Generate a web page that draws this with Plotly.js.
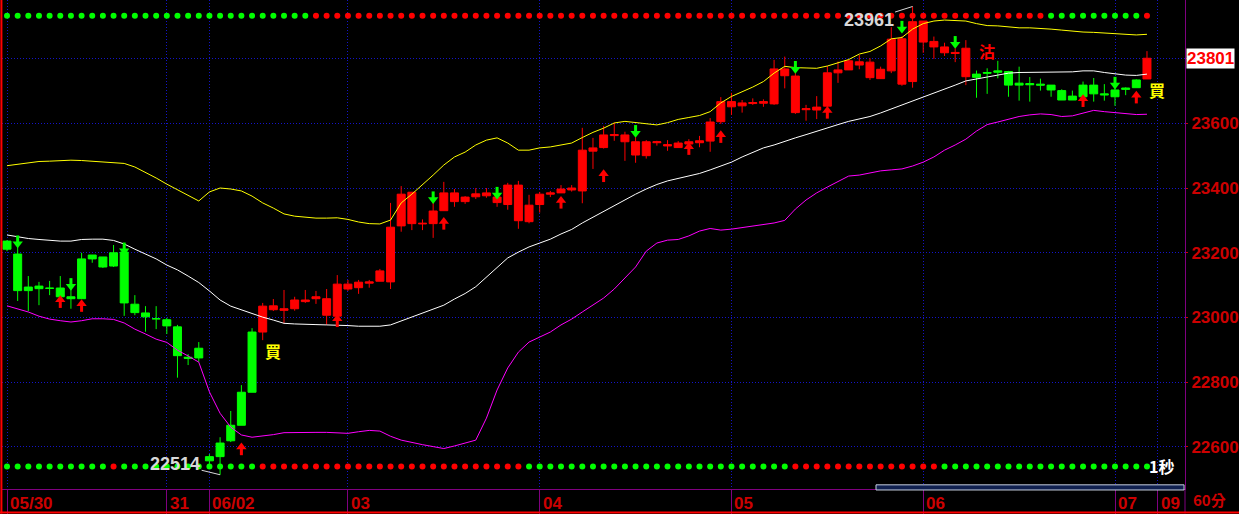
<!DOCTYPE html>
<html><head><meta charset="utf-8">
<script src="https://cdn.plot.ly/plotly-3.0.1.min.js"></script>
<style>html,body{margin:0;padding:0;background:#000;}#chart{width:1239px;height:514px;}</style>
</head><body><div id="chart"></div>
<script>
// ---- data (60-minute bars) ----
const open = [
23236,23196,23094,23097,23091,23091,23064,23058,23193,23187,
23200,23202,23041,23014,22996,22993,22971,22877,22875,22570,
22612,22619,22667,22769,22955,23024,23022,23027,23049,23058,
23007,23004,23088,23092,23106,23112,23110,23283,23290,23289,
23290,23330,23358,23358,23373,23376,23355,23349,23409,23296,
23349,23381,23385,23394,23391,23514,23525,23562,23543,23502,
23500,23540,23530,23525,23536,23540,23545,23605,23651,23654,
23661,23662,23660,23747,23746,23642,23641,23653,23756,23765,
23780,23789,23738,23762,23861,23729,23916,23853,23836,23819,
23832,23752,23757,23762,23760,23724,23723,23721,23718,23701,
23684,23718,23718,23691,23703,23709,23710,23737];
const close = [
23211,23083,23083,23089,23090,23064,23058,23181,23181,23156,
23159,23045,23015,23002,22996,22974,22882,22874,22905,22557,
22570,22667,22769,22955,23035,23036,23027,23054,23054,23064,
23058,23103,23103,23109,23110,23144,23279,23381,23387,23291,
23329,23385,23385,23372,23382,23385,23372,23409,23299,23347,
23381,23385,23397,23400,23517,23524,23564,23565,23564,23543,
23543,23543,23534,23539,23543,23546,23604,23667,23667,23663,
23664,23667,23768,23768,23633,23645,23650,23756,23765,23793,
23790,23741,23767,23860,23721,23914,23851,23836,23818,23816,
23744,23742,23755,23758,23718,23718,23719,23718,23703,23672,
23672,23682,23691,23688,23682,23705,23734,23801];
const high = [
23239,23225,23128,23110,23113,23128,23110,23200,23193,23187,
23224,23224,23069,23035,23035,22999,22977,22887,22924,22578,
22630,22711,22791,22967,23045,23057,23085,23064,23085,23082,
23088,23131,23116,23116,23116,23150,23354,23406,23388,23303,
23366,23419,23397,23375,23400,23400,23385,23416,23422,23379,
23388,23391,23409,23409,23586,23555,23592,23602,23574,23557,
23548,23546,23548,23545,23551,23561,23616,23681,23694,23672,
23677,23674,23796,23806,23760,23657,23684,23777,23791,23797,
23811,23801,23775,23897,23869,23961,23916,23868,23849,23832,
23857,23763,23770,23793,23762,23775,23743,23738,23718,23705,
23701,23729,23740,23721,23709,23711,23736,23823];
const low = [
23205,23051,23020,23038,23069,23048,23027,23057,23169,23153,
23156,23005,23007,22956,22964,22949,22814,22853,22863,22539,
22514,22615,22667,22769,22930,23020,22982,23021,23045,23042,
22977,22977,23082,23073,23092,23112,23088,23265,23270,23270,
23246,23330,23342,23351,23366,23370,23342,23333,23274,23291,
23324,23372,23385,23389,23353,23459,23522,23546,23484,23478,
23491,23531,23515,23525,23533,23526,23512,23598,23626,23633,
23657,23651,23657,23708,23629,23608,23613,23650,23725,23765,
23767,23734,23738,23755,23716,23710,23818,23799,23808,23789,
23718,23679,23691,23739,23682,23670,23667,23701,23682,23672,
23672,23682,23667,23670,23654,23687,23710,23737];
// candle colour signal: g = green, r = red
const candleColor = 'gggggggggggggggggggggggg' + 'r'.repeat(67) + 'gggggggggggggggg' + 'r';
// Bollinger bands
const upperBand = [
23469,23474,23479,23482,23483,23485,23486,23485,23483,23482,
23480,23476,23465,23449,23431,23412,23394,23378,23360,23388,
23400,23397,23391,23375,23354,23338,23320,23313,23310,23307,
23307,23308,23303,23295,23290,23289,23301,23354,23381,23409,
23440,23471,23496,23511,23533,23548,23555,23539,23517,23517,
23524,23527,23533,23539,23556,23572,23585,23601,23606,23602,
23599,23595,23602,23612,23618,23624,23636,23663,23683,23697,
23712,23729,23755,23776,23772,23771,23770,23777,23786,23797,
23814,23822,23839,23861,23865,23891,23908,23916,23919,23918,
23916,23908,23902,23901,23898,23895,23895,23894,23891,23888,
23884,23882,23881,23879,23878,23874,23873,23875];
const midBand = [
23255,23249,23244,23241,23238,23236,23236,23241,23242,23242,
23238,23227,23211,23196,23181,23162,23147,23128,23108,23082,
23054,23035,23023,23012,23001,22992,22982,22980,22980,22978,
22977,22977,22975,22973,22973,22973,22977,22989,23001,23014,
23026,23038,23057,23074,23095,23125,23156,23184,23202,23218,
23230,23242,23258,23272,23292,23310,23327,23347,23364,23381,
23397,23411,23422,23429,23437,23445,23456,23468,23480,23496,
23511,23524,23533,23545,23555,23565,23576,23587,23596,23606,
23613,23621,23632,23644,23657,23669,23681,23692,23706,23718,
23731,23738,23743,23749,23755,23757,23757,23757,23757,23757,
23759,23762,23762,23757,23752,23749,23748,23752];
const lowerBand = [
23036,23026,23017,23004,22995,22990,22986,22990,22996,22996,
22994,22983,22964,22949,22933,22923,22899,22881,22862,22770,
22704,22661,22637,22630,22633,22638,22644,22645,22645,22645,
22645,22644,22642,22647,22651,22649,22633,22621,22613,22607,
22601,22595,22603,22612,22621,22689,22776,22844,22893,22924,
22940,22955,22977,22995,23017,23038,23060,23088,23122,23156,
23205,23230,23239,23241,23252,23267,23275,23270,23273,23278,
23283,23287,23292,23300,23335,23363,23385,23403,23419,23437,
23440,23446,23453,23456,23459,23468,23480,23496,23517,23533,
23551,23576,23596,23604,23613,23621,23626,23629,23627,23621,
23623,23632,23640,23636,23633,23629,23627,23628];
// signal dot rows
const topSignal = 'g'.repeat(29) + 'r'.repeat(69) + 'g'.repeat(9) + 'r';
const bottomSignal = 'g'.repeat(10) + 'r' + 'g'.repeat(13) + 'r'.repeat(25) + 'g'.repeat(25) + 'r'.repeat(14) + 'g'.repeat(20);
// arrow markers
const upArrowIdx = [5,7,22,31,41,52,56,64,67,77,101,106];
const upArrowPrice = [23048,23036,22593,22989,23290,23355,23437,23521,23558,23633,23669,23680];
const downArrowIdx = [1,6,11,40,46,59,74,84,89,104];
const downArrowPrice = [23235,23103,23213,23371,23385,23576,23774,23898,23851,23725];
// axis ticks
const dayTickIdx = [0,15,19,32,50,68,86,104,108];
const dayTickText = ['05/30','31','06/02','03','04','05','06','07','09'];
const priceTicks = [22600,22800,23000,23200,23400,23600,23800];
const priceTickText = ['22600','22800','23000','23200','23400','23600',''];
const buyLabels = [{i:24, p:22896, t:'買'}, {i:107, p:23703, t:'買'}];
const sellLabels = [{i:91, p:23822, t:'沽'}];

// ---- styles ----
const RED = '#ff0000', GREEN = '#00ff00', AXRED = '#cc0000', PURPLE = '#800080', GRID = '#1414c8';
const yRange = [22470, 23981];
const plotH = 489;
const ppp = (yRange[1] - yRange[0]) / plotH;
const idx = open.map((_, i) => i);

function candleTrace(code, col) {
  const x=[],o=[],h=[],l=[],c=[];
  idx.forEach(i => { if (candleColor[i] === code) { x.push(i); o.push(open[i]); h.push(high[i]); l.push(low[i]); c.push(close[i]); } });
  const st = {line:{color:col, width:1}, fillcolor:col};
  return {type:'candlestick', x, open:o, high:h, low:l, close:c, increasing:st, decreasing:st,
          whiskerwidth:0, hoverinfo:'skip', showlegend:false};
}
const lineTrace = (y, col) => ({type:'scatter', mode:'lines', x:idx, y, line:{color:col, width:1}, hoverinfo:'skip'});
const dotTrace = (sig, yv) => ({type:'scatter', mode:'markers', x:idx, y:idx.map(()=>yv), yaxis:'y2',
  marker:{size:6, color:sig.split('').map(s => s==='g'?GREEN:RED)}, hoverinfo:'skip', cliponaxis:false});

const traces = [
  lineTrace(upperBand, '#ffff00'),
  lineTrace(midBand, '#ffffff'),
  lineTrace(lowerBand, '#ff00ff'),
  candleTrace('g', GREEN),
  candleTrace('r', RED),
  dotTrace(topSignal, 0.968),
  dotTrace(bottomSignal, 0.046),
  {type:'scatter', mode:'markers', x:upArrowIdx, y:upArrowPrice.map(p=>p+2.2*ppp), marker:{symbol:'triangle-up', size:9, color:RED}, hoverinfo:'skip'},
  {type:'scatter', mode:'markers', x:upArrowIdx, y:upArrowPrice.map(p=>p-2.5*ppp), marker:{symbol:'line-ns', size:5, line:{color:RED, width:3}}, hoverinfo:'skip'},
  {type:'scatter', mode:'markers', x:downArrowIdx, y:downArrowPrice.map(p=>p-2.2*ppp), marker:{symbol:'triangle-down', size:9, color:GREEN}, hoverinfo:'skip'},
  {type:'scatter', mode:'markers', x:downArrowIdx, y:downArrowPrice.map(p=>p+2.5*ppp), marker:{symbol:'line-ns', size:5, line:{color:GREEN, width:3}}, hoverinfo:'skip'},
  {type:'scatter', mode:'markers', x:[110.75], y:[close[close.length-1]], marker:{symbol:'triangle-left', size:7, color:'#ffffff'}, cliponaxis:false, hoverinfo:'skip'}
];

const lblFont = {family:'Liberation Sans, Arial, sans-serif', size:17, color:AXRED, weight:'bold'};
const annotations = [];
dayTickIdx.forEach((d, k) => annotations.push({xref:'x', yref:'paper', x:d, y:-0.03, xanchor:'left', yanchor:'middle',
  xshift:1, text:dayTickText[k], showarrow:false, font:lblFont}));
annotations.push({xref:'paper', yref:'paper', x:1, y:-0.022, xanchor:'left', yanchor:'middle', xshift:6, text:'60分', showarrow:false,
  font:{family:'Noto Sans CJK TC, sans-serif', size:15, color:AXRED, weight:'bold'}});
const last = close.length - 1;
annotations.push({xref:'paper', yref:'y', x:1, y:close[last], xanchor:'left', yanchor:'middle', xshift:1, text:String(close[last]),
  showarrow:false, bgcolor:'#ffffff', borderpad:0, font:{family:'Liberation Sans, Arial, sans-serif', size:17, color:RED, weight:'bold'}});
// extremes
let hi = 0, lo = 0;
idx.forEach(i => { if (high[i] > high[hi]) hi = i; if (low[i] < low[lo]) lo = i; });
const extFont = {family:'Liberation Sans, Arial, sans-serif', size:18, color:'#d8d8d8', weight:'bold'};
annotations.push({x:hi, y:high[hi], text:String(high[hi]), showarrow:true, arrowhead:0, arrowwidth:1, arrowcolor:'#d8d8d8', ax:-44, ay:14, font:extFont, standoff:0});
annotations.push({x:lo, y:low[lo], text:String(low[lo]), showarrow:true, arrowhead:0, arrowwidth:1, arrowcolor:'#d8d8d8', ax:-45, ay:-11, font:extFont, standoff:0});
buyLabels.forEach(b => annotations.push({x:b.i, y:b.p, text:b.t, xanchor:'left', yanchor:'middle', xshift:0, showarrow:false,
  font:{family:'Noto Sans CJK TC, sans-serif', size:16, color:'#ffff00', weight:'bold'}}));
sellLabels.forEach(b => annotations.push({x:b.i, y:b.p, text:b.t, xanchor:'left', yanchor:'middle', xshift:0, showarrow:false,
  font:{family:'Noto Sans CJK TC, sans-serif', size:16, color:RED, weight:'bold'}}));
annotations.push({xref:'x', yref:'y2', x:last, y:0.048, xanchor:'left', yanchor:'middle', xshift:0, text:'1秒', showarrow:false,
  font:{family:'Noto Sans CJK TC, sans-serif', size:16, color:'#ffffff', weight:'bold'}});

const shapes = [
  {type:'line', xref:'paper', yref:'paper', x0:-0.0005, x1:-0.0005, y0:-0.05, y1:1, line:{color:RED, width:2}},
  {type:'line', xref:'paper', yref:'paper', x0:1, x1:1, y0:-0.05, y1:0, line:{color:PURPLE, width:1}},
  {type:'line', xref:'paper', yref:'paper', x0:-0.002, x1:1.05, y0:-0.048, y1:-0.048, line:{color:RED, width:2}},
  {type:'rect', xref:'paper', yref:'paper', x0:0.7388, x1:0.9992, y0:-0.002, y1:0.0085, fillcolor:'#102050', line:{color:'#c8d0e0', width:1}}
];

const layout = {
  width:1239, height:514, margin:{l:2, r:54, t:0, b:25},
  paper_bgcolor:'#000', plot_bgcolor:'#000', showlegend:false,
  boxgap:0.25, boxgroupgap:0,
  xaxis:{range:[-0.47, 110.57], rangeslider:{visible:false}, tickvals:dayTickIdx, showticklabels:false,
    showgrid:true, gridcolor:GRID, griddash:'1px,2px', gridwidth:1, ticks:'outside', ticklen:25, tickcolor:PURPLE,
    showline:true, linecolor:PURPLE, linewidth:1, zeroline:false, fixedrange:true},
  yaxis:{range:yRange, side:'right', tickvals:priceTicks, ticktext:priceTickText, showgrid:true, gridcolor:GRID,
    griddash:'1px,2px', gridwidth:1, ticks:'outside', ticklen:2, tickcolor:AXRED, showline:true, linecolor:PURPLE, linewidth:1,
    zeroline:false, tickfont:lblFont, ticklabelstandoff:0, fixedrange:true},
  yaxis2:{range:[0,1], overlaying:'y', visible:false, fixedrange:true},
  annotations, shapes
};
Plotly.newPlot('chart', traces, layout, {staticPlot:true, displayModeBar:false});
</script></body></html>
